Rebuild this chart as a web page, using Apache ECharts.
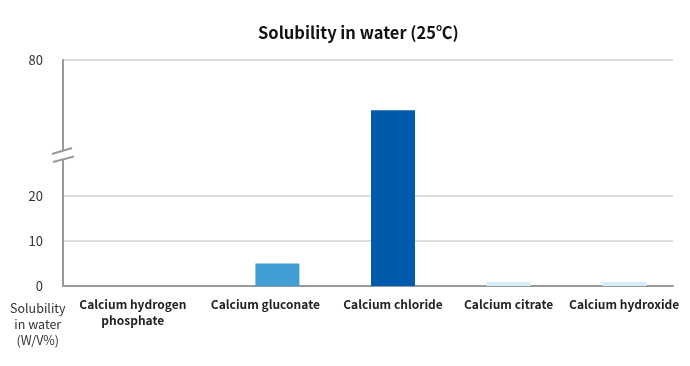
<!DOCTYPE html>
<html>
<head>
<meta charset="utf-8">
<script src="https://cdn.jsdelivr.net/npm/echarts@6/dist/echarts.min.js"></script>
<style>
html,body{margin:0;padding:0;background:#fff;}
#c{width:690px;height:366px;}
</style>
</head>
<body>
<div id="c"></div>
<script>
// ---- data ----
const categories = ['Calcium hydrogen\nphosphate', 'Calcium gluconate', 'Calcium chloride', 'Calcium citrate', 'Calcium hydroxide'];
const solubility = [0, 5, 69.4, 0.9, 0.9];
const barColors = ['#D6EEF8', '#429DD2', '#005BAC', '#D6EEF8', '#D6EEF8'];
const yTickLabels = [0, 10, 20, 80];
const titleText = 'Solubility in water (25\u2103)';
const yAxisTitle = 'Solubility\nin water\n(W/V%)';

// broken axis: lower segment 0..29 shown linearly, upper segment 60..80 compressed on top
const LOW_END = 29, HIGH_START = 60, HIGH_END = 80, DISP_MAX = 50;
function toDisplay(v) {
  return v <= LOW_END ? v : LOW_END + (v - HIGH_START) * (DISP_MAX - LOW_END) / (HIGH_END - HIGH_START);
}
function fromDisplay(d) {
  return d <= LOW_END ? d : HIGH_START + (d - LOW_END) * (HIGH_END - HIGH_START) / (DISP_MAX - LOW_END);
}

const FONT = '"Noto Sans CJK JP", "Noto Sans", sans-serif';
const chart = echarts.init(document.getElementById('c'), null, {renderer: 'canvas'});

const gridLineColors = [0, 10, 20, 30, 40, 50].map(d => {
  const v = Math.round(fromDisplay(d));
  return yTickLabels.indexOf(v) >= 0 && (d <= LOW_END || d === DISP_MAX) ? '#dedede' : 'rgba(0,0,0,0)';
});

// small label shifts (px) to match the reference's label placement
const labelShift = [29, 12, 0, 0, 0];

const option = {
  animation: false,
  backgroundColor: '#fff',
  title: {
    text: titleText,
    left: 253,
    top: 19,
    textStyle: {fontFamily: FONT, fontSize: 16.5, fontWeight: 'bold', color: '#111'}
  },
  grid: [
    {left: 63, right: 17, top: 60, bottom: 80},
    {left: 104, right: 8, top: 60, bottom: 80}
  ],
  xAxis: [
    {
      gridIndex: 0, type: 'value', min: 0, max: 1,
      axisLine: {show: true, lineStyle: {color: '#999', width: 2}},
      axisTick: {show: false}, axisLabel: {show: false}, splitLine: {show: false}
    },
    {
      gridIndex: 1, type: 'category',
      data: categories.map((c, i) => labelShift[i]
        ? {value: c, textStyle: {padding: [0, labelShift[i] * 2, 0, 0]}} : c),
      axisLine: {show: false}, axisTick: {show: false},
      axisLabel: {
        interval: 0, margin: 10, color: '#222', fontFamily: FONT, fontSize: 12,
        fontWeight: 'bold', lineHeight: 16
      }
    }
  ],
  yAxis: [
    {
      gridIndex: 0, type: 'value', min: 0, max: DISP_MAX, interval: 10,
      axisLine: {show: true, lineStyle: {color: '#999', width: 2}},
      axisTick: {show: false},
      axisLabel: {
        margin: 20, color: '#333', fontFamily: FONT, fontSize: 13,
        formatter: d => {
          const v = Math.round(fromDisplay(d));
          if (d > LOW_END && d < DISP_MAX) return '';
          return yTickLabels.indexOf(v) >= 0 ? String(v) : '';
        }
      },
      splitLine: {show: true, lineStyle: {color: gridLineColors, width: 2}}
    },
    {
      gridIndex: 1, type: 'value', min: 0, max: DISP_MAX, show: false
    }
  ],
  series: [{
    type: 'bar',
    xAxisIndex: 1, yAxisIndex: 1,
    barWidth: 44,
    data: solubility.map((v, i) => ({value: toDisplay(v), itemStyle: {color: barColors[i]}}))
  }]
};
chart.setOption(option);

// axis break mark + y-axis title
const p = chart.convertToPixel({xAxisIndex: 0, yAxisIndex: 0}, [0, LOW_END]);
const ax = p[0], ay = p[1];
chart.setOption({
  graphic: [
    {type: 'polygon', shape: {points: [[ax - 10, ay - 1], [ax + 10, ay - 7], [ax + 10, ay + 1.5], [ax - 10, ay + 7.5]]},
     style: {fill: '#fff'}, z: 100},
    {type: 'line', shape: {x1: ax - 11, y1: ay - 1, x2: ax + 9, y2: ay - 7},
     style: {stroke: '#999', lineWidth: 2}, z: 101},
    {type: 'line', shape: {x1: ax - 10, y1: ay + 7, x2: ax + 11, y2: ay + 1.5},
     style: {stroke: '#999', lineWidth: 2}, z: 101},
    {type: 'text', left: 10, top: 300,
     style: {text: yAxisTitle, fill: '#333', font: '12.5px ' + FONT, textAlign: 'center', lineHeight: 16}, z: 100}
  ]
});
</script>
</body>
</html>
